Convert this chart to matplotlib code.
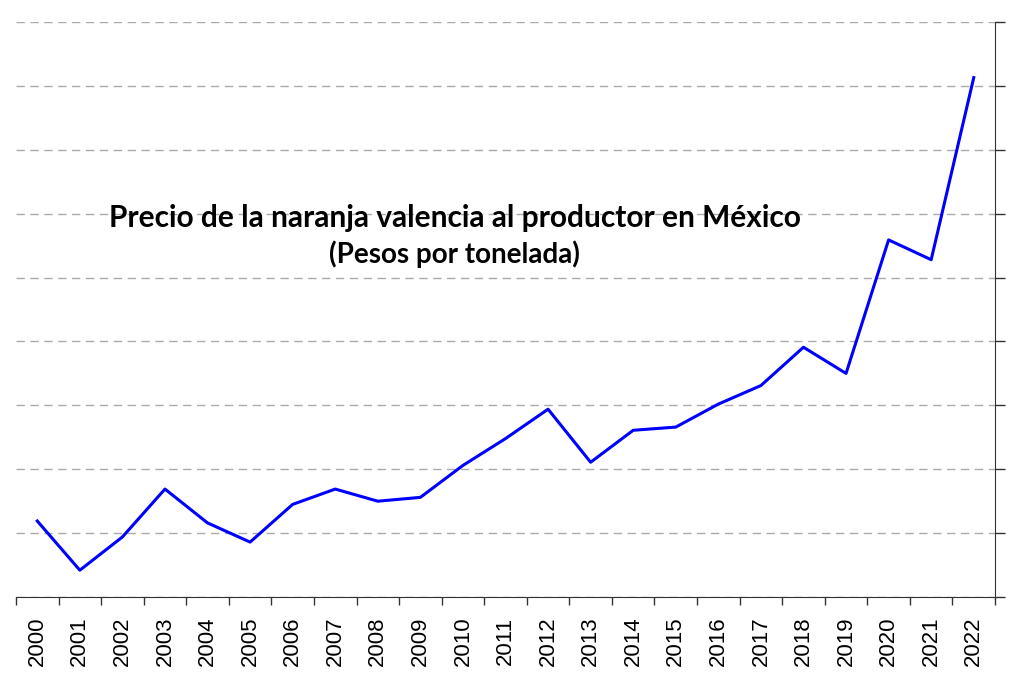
import matplotlib.pyplot as plt
import numpy as np

# Data (pesos per tonne)
years = [str(y) for y in range(2000, 2023)]
price = [595, 210, 470, 845, 580, 430, 725, 845, 750, 780,
         1030, 1240, 1470, 1055, 1305, 1330, 1510, 1655, 1955, 1750,
         2795, 2640, 4065]
y_ticks = np.arange(0, 4501, 500)

TITLE = 'Precio de la naranja valencia al productor en México'
SUBTITLE = '(Pesos por tonelada)'

fig = plt.figure(figsize=(10.11, 6.74), dpi=100)
ax = fig.add_axes([0.0158, 0.1142, 0.9684, 0.8531])

x = np.arange(len(years))
ax.plot(x, price, color='#0000ff', linewidth=2.2, zorder=3)

ax.set_xlim(-0.5, len(years) - 0.5)
ax.set_ylim(0, 4500)

# category ticks between years, labels centred
ax.set_xticks(np.arange(-0.5, len(years)), minor=False)
ax.set_xticklabels([])
ax.set_xticks(x, minor=True)
ax.set_xticklabels(years, minor=True, rotation=90, fontsize=16,
                   family='Liberation Sans')
ax.tick_params(axis='x', which='major', length=6, width=1, color='#333333', direction='out')
ax.tick_params(axis='x', which='minor', length=0, pad=14)

ax.yaxis.tick_right()
ax.set_yticks(y_ticks)
ax.set_yticklabels([])
ax.tick_params(axis='y', length=7, width=1, color='#333333', direction='out')

ax.grid(axis='y', linestyle=(0, (6, 4)), color='#aaaaaa', linewidth=1.0)
ax.set_axisbelow(True)

for s in ['top', 'left']:
    ax.spines[s].set_visible(False)
ax.spines['right'].set_color('#333333')
ax.spines['bottom'].set_color('#333333')

ax.text(0.448, 0.66, TITLE, transform=ax.transAxes, ha='center', va='center',
        fontsize=21.5, fontweight='bold', family='Lato')
ax.text(0.448, 0.597, SUBTITLE, transform=ax.transAxes, ha='center', va='center',
        fontsize=20, fontweight='bold', family='Lato')

fig.savefig('out.png', dpi=100)
